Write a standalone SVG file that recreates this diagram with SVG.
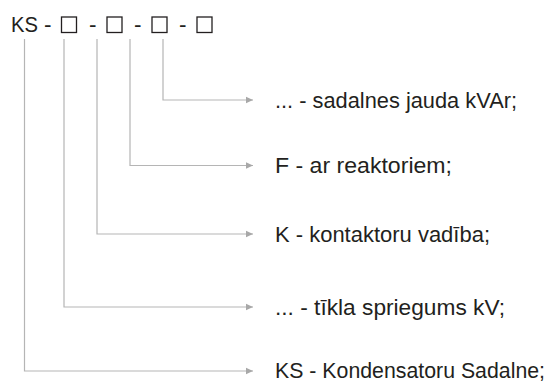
<svg xmlns="http://www.w3.org/2000/svg" width="558" height="387" viewBox="0 0 558 387">
<style>
text{font-family:"Liberation Sans",Arial,sans-serif;font-size:22.5px;fill:#231f20}
.box{fill:none;stroke:#231f20;stroke-width:1.3}
.c{fill:none;stroke:#b5b5b5;stroke-width:1.2}
</style>
<defs>
<marker id="ah" markerUnits="userSpaceOnUse" markerWidth="8" markerHeight="8" refX="7" refY="4" orient="auto">
<path d="M0,0.8 L7,4 L0,7.2 Z" fill="#a8a8a8"/>
</marker>
</defs>
<rect width="558" height="387" fill="#fff"/>
<g id="code">
<text x="11" y="32" textLength="27" lengthAdjust="spacingAndGlyphs">KS</text>
<text x="44" y="32">-</text>
<rect class="box" x="61.5" y="17" width="15" height="15.5"/>
<text x="89" y="32">-</text>
<rect class="box" x="107" y="17" width="15" height="15.5"/>
<text x="134" y="32">-</text>
<rect class="box" x="152" y="17" width="15" height="15.5"/>
<text x="179" y="32">-</text>
<rect class="box" x="197" y="17" width="15" height="15.5"/>
</g>
<g id="connectors">
<path class="c" d="M163,39 V100 H253" marker-end="url(#ah)"/>
<path class="c" d="M130,39 V165.5 H253" marker-end="url(#ah)"/>
<path class="c" d="M97,39 V234 H253" marker-end="url(#ah)"/>
<path class="c" d="M64,39 V307 H253" marker-end="url(#ah)"/>
<path class="c" d="M24.5,39 V371 H253" marker-end="url(#ah)"/>
</g>
<g id="label-jauda"><text x="275" y="107.5" textLength="242" lengthAdjust="spacingAndGlyphs">... - sadalnes jauda kVAr;</text></g>
<g id="label-F"><text x="275" y="173" textLength="177" lengthAdjust="spacingAndGlyphs">F - ar reaktoriem;</text></g>
<g id="label-K"><text x="275" y="241.5" textLength="215" lengthAdjust="spacingAndGlyphs">K - kontaktoru vadība;</text></g>
<g id="label-kV"><text x="275" y="314.5" textLength="230" lengthAdjust="spacingAndGlyphs">... - tīkla spriegums kV;</text></g>
<g id="label-KS"><text x="275" y="378" textLength="270" lengthAdjust="spacingAndGlyphs">KS - Kondensatoru Sadalne;</text></g>
</svg>
